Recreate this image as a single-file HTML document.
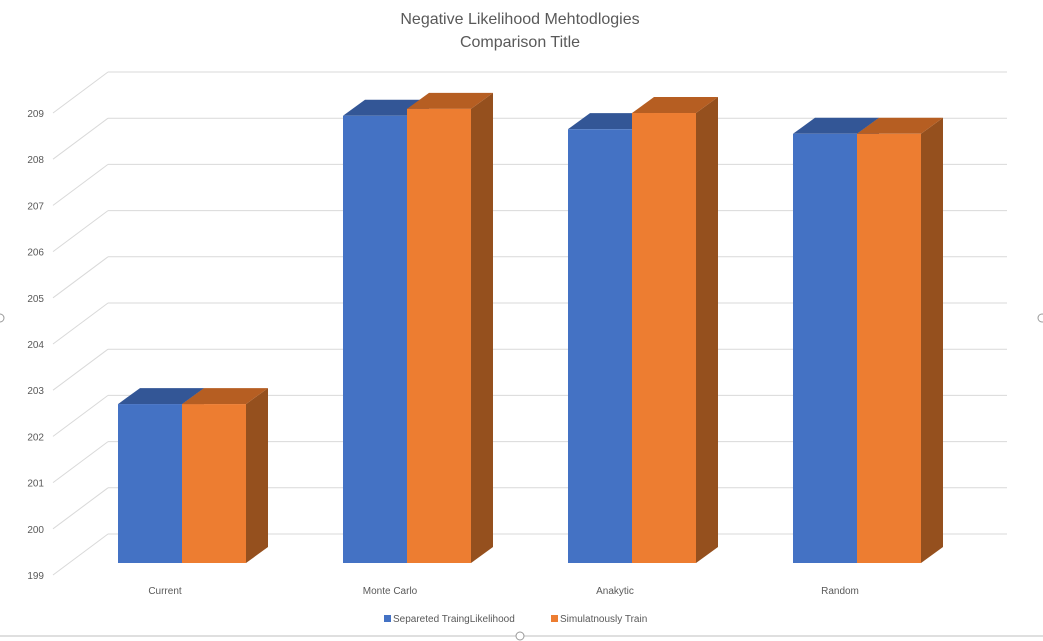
<!DOCTYPE html>
<html><head><meta charset="utf-8"><style>
html,body{margin:0;padding:0;background:#fff;width:1043px;height:641px;overflow:hidden}
svg{display:block;font-family:"Liberation Sans",sans-serif}
</style></head><body>
<svg id="chart" width="1043" height="641">
<text x="520" y="24" text-anchor="middle" font-size="16" fill="#595959">Negative Likelihood Mehtodlogies</text>
<text x="520" y="47" text-anchor="middle" font-size="16" fill="#595959">Comparison Title</text>
<g id="grid"></g><g id="bars"></g><g id="labels"></g>
<g>
<rect x="384" y="615" width="7" height="7" fill="#4472C4"/>
<text x="393" y="622" font-size="10" fill="#595959">Separeted  TraingLikelihood</text>
<rect x="551" y="615" width="7" height="7" fill="#ED7D31"/>
<text x="560" y="622" font-size="10" fill="#595959">Simulatnously  Train</text>
</g>
<line x1="0" y1="636" x2="1043" y2="636" stroke="#bfbfbf"/>
<circle cx="520" cy="636" r="4" fill="#fff" stroke="#999"/>
<circle cx="0" cy="318" r="4" fill="#fff" stroke="#999"/>
<circle cx="1042" cy="318" r="4" fill="#fff" stroke="#999"/>
</svg>
<script>
const categories=["Current","Monte Carlo","Anakytic","Random"];
const seriesSeparated=[202.44,208.68,208.39,208.29];
const seriesSimultaneous=[202.44,208.83,208.74,208.29];
const tickLabels=[199,200,201,202,203,204,205,206,207,208,209];
const NS="http://www.w3.org/2000/svg";
const yMin=199,pxPer=46.2;
function yFront(v){return 575-(v-yMin)*pxPer;}
function yBar(v){return 563-(v-yMin)*pxPer;}
function catX(i){return 118+i*225;}
function mk(tag,attrs,parent){const e=document.createElementNS(NS,tag);for(const k in attrs)e.setAttribute(k,attrs[k]);parent.appendChild(e);return e;}
const grid=document.getElementById('grid'),bars=document.getElementById('bars'),labels=document.getElementById('labels');
tickLabels.forEach(v=>{
  const yf=yFront(v),yb=yf-41;
  const l1=mk('line',{x1:53,y1:yf,x2:108,y2:yb,stroke:'#d9d9d9'},grid);
  
  
  const l2=mk('line',{x1:108,y1:yb,x2:1007,y2:yb,stroke:'#d9d9d9'},grid);
  
  
  const tx=mk('text',{x:44,y:yf+4,'text-anchor':'end','font-size':10,fill:'#595959'},labels);
  tx.textContent=v;
  
  
});
const dx=22,dy=16,w=64;
function bar(x,v,front,top,side,name){
  const y=yBar(v),b=563;
  const g=mk('g',{},bars);
  
  
  mk('polygon',{points:`${x+w},${y} ${x+w+dx},${y-dy} ${x+w+dx},${b-dy} ${x+w},${b}`,fill:side},g);
  mk('polygon',{points:`${x},${y} ${x+dx},${y-dy} ${x+w+dx},${y-dy} ${x+w},${y}`,fill:top},g);
  mk('rect',{x:x,y:y,width:w,height:b-y,fill:front},g);
}
categories.forEach((c,i)=>{
  const x=catX(i);
  bar(x,seriesSeparated[i],'#4472C4','#335696','#2D4A80','bar-separated-'+i);
  bar(x+w,seriesSimultaneous[i],'#ED7D31','#B65E22','#95501E','bar-simultaneous-'+i);
  const tx=mk('text',{x:x+w-17,y:594,'text-anchor':'middle','font-size':10,fill:'#595959'},labels);
  tx.textContent=c;
  
  
});
</script>
</body></html>
